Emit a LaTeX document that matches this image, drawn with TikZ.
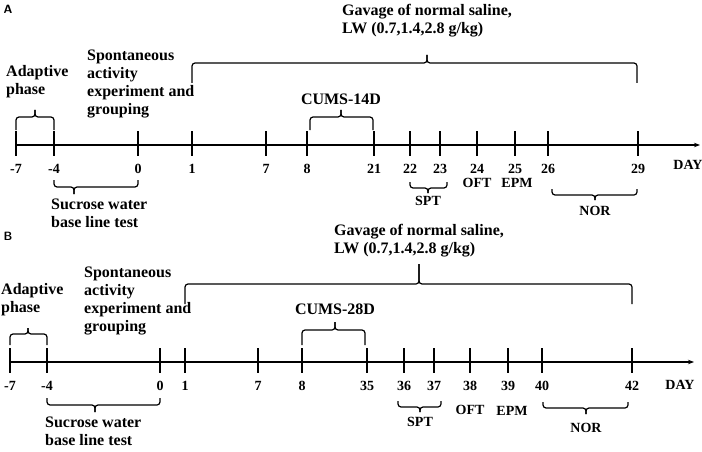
\documentclass[tikz,border=0pt]{standalone}
\usepackage{fontspec}
\setmainfont{Liberation Serif}
\usetikzlibrary{positioning,arrows.meta}
\tikzset{
  lbl/.style={font=\fontsize{16}{18}\selectfont\bfseries, inner sep=1pt},
  small/.style={font=\fontsize{14}{16}\selectfont\bfseries, inner sep=1pt},
  brk/.style={line width=1.2pt, rounded corners=3pt},
  axis/.style={line width=1.2pt, -{Stealth[length=6pt]}}
}
% brace: x1, x2, y of bar, y of ends, x of tip, y of tip
\newcommand{\tlbrace}[6]{%
  \draw[brk] (#1,#4) -- (#1,#3) -- (#5,#3) -- (#5,#6);
  \draw[brk] (#5,#6) -- (#5,#3) -- (#2,#3) -- (#2,#4);}
\begin{document}
\begin{tikzpicture}[x=1pt,y=-1pt]
  \useasboundingbox (0,0) rectangle (702,452);
  % panel A
  \node[font=\sffamily\bfseries\fontsize{12}{14}\selectfont] (tagA) at (8,9) {A};
  \draw[axis] (16,145) -- (700,145);
  \foreach \x/\d in {16/-7,54/-4,138/0,192/1,266/7,307/8,374/21,410/22,440/23,477/24,515/25,548/26,638/29} {
    \draw[line width=1.2pt] (\x,131) -- (\x,156);
    \node[small] (a\d) at (\x,169) {\d};
  }
  \node[small] (dayA) at (688,165) {DAY};
  \node[lbl, align=left, anchor=north west] (adaptA) at (5,64) {Adaptive\\phase};
  \tlbrace{16}{54}{117}{130}{35}{110}
  \node[lbl, align=left, anchor=north west] (sponA) at (86,49) {Spontaneous\\activity\\experiment and\\grouping};
  \tlbrace{54}{138}{187}{180}{74}{194}
  \node[lbl, align=left, anchor=north west] (sucA) at (50,198) {Sucrose water\\base line test};
  \tlbrace{192}{637}{63}{83}{427}{55}
  \node[lbl, align=left, anchor=south] (gavA) at (427,38) {Gavage of normal saline,\\LW (0.7,1.4,2.8 g/kg)};
  \tlbrace{310}{373}{117}{130}{341}{110}
  \node[lbl] (cumsA) at (341,99) {CUMS-14D};
  \tlbrace{410}{447}{188}{182}{428}{193}
  \node[small] (sptA) at (428,201) {SPT};
  \node[small] (oftA) at (477,183) {OFT};
  \node[small] (epmA) at (517,183) {EPM};
  \tlbrace{552}{637}{195}{189}{595}{200}
  \node[small] (norA) at (595,211) {NOR};
  % panel B
  \node[font=\sffamily\bfseries\fontsize{12}{14}\selectfont] (tagB) at (8,236) {B};
  \draw[axis] (10,362) -- (694,362);
  \foreach \x/\d in {10/-7,47/-4,160/0,185/1,258/7,302/8,367/35,404/36,434/37,470/38,508/39,542/40,632/42} {
    \draw[line width=1.2pt] (\x,348) -- (\x,373);
    \node[small] (b\d) at (\x,386) {\d};
  }
  \node[small] (dayB) at (680,385) {DAY};
  \node[lbl, align=left, anchor=north west] (adaptB) at (0,282) {Adaptive\\phase};
  \tlbrace{10}{47}{334}{345}{28}{328}
  \node[lbl, align=left, anchor=north west] (sponB) at (83,266) {Spontaneous\\activity\\experiment and\\grouping};
  \tlbrace{47}{160}{405}{398}{95}{412}
  \node[lbl, align=left, anchor=north west] (sucB) at (44,416) {Sucrose water\\base line test};
  \tlbrace{185}{632}{284}{304}{419}{264}
  \node[lbl, align=left, anchor=south] (gavB) at (419,258) {Gavage of normal saline,\\LW (0.7,1.4,2.8 g/kg)};
  \tlbrace{302}{365}{330}{345}{335}{322}
  \node[lbl] (cumsB) at (335,309) {CUMS-28D};
  \tlbrace{398}{441}{407}{401}{420}{412}
  \node[small] (sptB) at (420,422) {SPT};
  \node[small] (oftB) at (470,410) {OFT};
  \node[small] (epmB) at (512,411) {EPM};
  \tlbrace{543}{628}{408}{402}{586}{414}
  \node[small] (norB) at (586,428) {NOR};
\end{tikzpicture}
\end{document}
